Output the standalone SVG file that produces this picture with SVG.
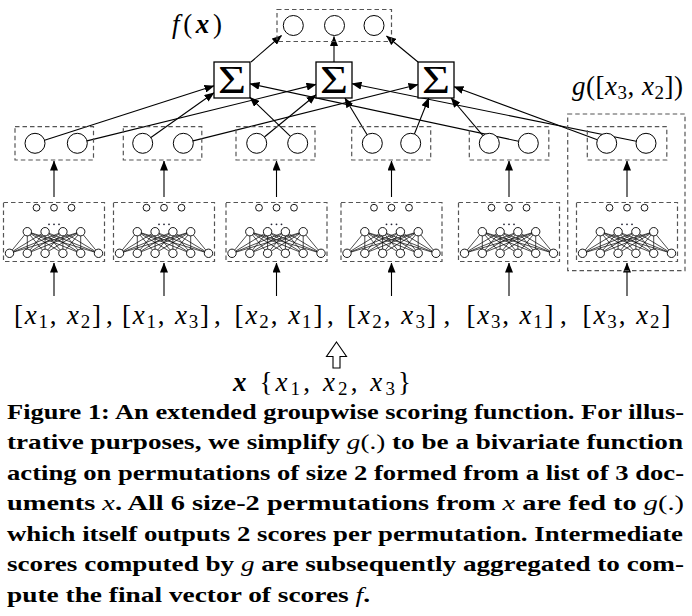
<svg xmlns="http://www.w3.org/2000/svg" xmlns:xlink="http://www.w3.org/1999/xlink" width="692" height="616" viewBox="0 0 692 616">
<style>
.dash{fill:none;stroke:#555;stroke-width:1.2;stroke-dasharray:4.5,3}
.node{fill:#fff;stroke:#000;stroke-width:1}
.small{fill:#fff;stroke:#000;stroke-width:0.9}
.edge{fill:none;stroke:#000;stroke-width:0.7}
.conn{fill:none;stroke:#000;stroke-width:1.1;marker-end:url(#ah)}
.sbox{fill:#fff;stroke:#000;stroke-width:1.3}
.math{font-size:27px;fill:#000}
.sig{font-size:40px;fill:#000}
.cap{font-size:22px;font-weight:bold;fill:#000}
.mi{font-style:italic;font-weight:normal}
</style>
<defs>
<marker id="ah" markerWidth="10" markerHeight="8" refX="9.5" refY="4" orient="auto" markerUnits="userSpaceOnUse">
<path d="M0,0 L10,4 L0,8 z" fill="#000"/>
</marker>
<g id="net">
<rect class="dash" x="-50.5" y="202.5" width="101" height="59"/>
<path class="edge" d="M-44.5 253.3L-26.7 231.7M-44.5 253.3L-8.9 231.7M-44.5 253.3L8.9 231.7M-44.5 253.3L26.7 231.7M-26.7 253.3L-26.7 231.7M-26.7 253.3L-8.9 231.7M-26.7 253.3L8.9 231.7M-26.7 253.3L26.7 231.7M-8.9 253.3L-26.7 231.7M-8.9 253.3L-8.9 231.7M-8.9 253.3L8.9 231.7M-8.9 253.3L26.7 231.7M8.9 253.3L-26.7 231.7M8.9 253.3L-8.9 231.7M8.9 253.3L8.9 231.7M8.9 253.3L26.7 231.7M26.7 253.3L-26.7 231.7M26.7 253.3L-8.9 231.7M26.7 253.3L8.9 231.7M26.7 253.3L26.7 231.7M44.5 253.3L-26.7 231.7M44.5 253.3L-8.9 231.7M44.5 253.3L8.9 231.7M44.5 253.3L26.7 231.7"/>
<circle class="small" cx="-44.5" cy="253.3" r="4.2"/><circle class="small" cx="-26.7" cy="253.3" r="4.2"/><circle class="small" cx="-8.9" cy="253.3" r="4.2"/><circle class="small" cx="8.9" cy="253.3" r="4.2"/><circle class="small" cx="26.7" cy="253.3" r="4.2"/><circle class="small" cx="44.5" cy="253.3" r="4.2"/>
<circle class="small" cx="-26.7" cy="231.7" r="4.2"/><circle class="small" cx="-8.9" cy="231.7" r="4.2"/><circle class="small" cx="8.9" cy="231.7" r="4.2"/><circle class="small" cx="26.7" cy="231.7" r="4.2"/>
<circle class="small" cx="-17.5" cy="207.7" r="3.4"/><circle class="small" cx="0" cy="207.7" r="3.4"/><circle class="small" cx="17.5" cy="207.7" r="3.4"/>
<circle cx="-5" cy="224.3" r="0.9" fill="#223"/><circle cx="0" cy="224.3" r="0.9" fill="#223"/><circle cx="5" cy="224.3" r="0.9" fill="#223"/>
</g>
</defs>

<g id="connectors">
<line class="conn" x1="251" y1="62" x2="281.5" y2="35.5"/>
<line class="conn" x1="334" y1="62" x2="334" y2="36.5"/>
<line class="conn" x1="418" y1="62" x2="386.5" y2="36"/>
<line class="conn" x1="44.5" y1="140.2" x2="214" y2="85.8"/>
<line class="conn" x1="87" y1="140.9" x2="316" y2="84.4"/>
<line class="conn" x1="150.9" y1="137.5" x2="214" y2="92.8"/>
<line class="conn" x1="193" y1="140.9" x2="418" y2="84.5"/>
<line class="conn" x1="264.4" y1="137" x2="316" y2="94.7"/>
<line class="conn" x1="290.5" y1="136.4" x2="250" y2="97.3"/>
<line class="conn" x1="367.1" y1="134.7" x2="344.9" y2="98"/>
<line class="conn" x1="414.4" y1="134" x2="428.8" y2="98"/>
<line class="conn" x1="482.9" y1="135.7" x2="451.1" y2="98"/>
<line class="conn" x1="518.5" y1="141.2" x2="250" y2="83.8"/>
<line class="conn" x1="597.3" y1="139.8" x2="454" y2="86.7"/>
<line class="conn" x1="636.2" y1="141.3" x2="352" y2="83.7"/>
<line class="conn" x1="54" y1="197" x2="54" y2="161"/>
<line class="conn" x1="164" y1="197" x2="164" y2="161"/>
<line class="conn" x1="276.5" y1="197" x2="276.5" y2="161"/>
<line class="conn" x1="391.5" y1="197" x2="391.5" y2="161"/>
<line class="conn" x1="509" y1="197" x2="509" y2="161"/>
<line class="conn" x1="627" y1="197" x2="627" y2="161"/>
<line class="conn" x1="54" y1="296" x2="54" y2="263"/>
<line class="conn" x1="164" y1="296" x2="164" y2="263"/>
<line class="conn" x1="276.5" y1="296" x2="276.5" y2="263"/>
<line class="conn" x1="391.5" y1="296" x2="391.5" y2="263"/>
<line class="conn" x1="509" y1="296" x2="509" y2="263"/>
<line class="conn" x1="627" y1="296" x2="627" y2="263"/>
<path d="M336.5,342 L346.5,356.5 L340,356.5 L340,368 L333,368 L333,356.5 L326.5,356.5 Z" fill="#fff" stroke="#000" stroke-width="1.1"/>
</g>

<g id="f-out">
<rect class="dash" x="277" y="9.5" width="114.5" height="32"/>
<circle class="node" cx="293.3" cy="25.5" r="10"/>
<circle class="node" cx="334.5" cy="25.5" r="10"/>
<circle class="node" cx="374" cy="25.5" r="10"/>
<text class="math" font-family="Liberation Serif" x="172" y="33" font-size="26" textLength="50" lengthAdjust="spacing"><tspan font-style="italic">f</tspan>(<tspan font-style="italic" font-weight="bold">x</tspan>)</text>
</g>

<g id="sum1"><rect class="sbox" x="214" y="62" width="36" height="36"/><text class="sig" font-family="Liberation Serif" x="218" y="93" textLength="28" lengthAdjust="spacingAndGlyphs">Σ</text></g>
<g id="sum2"><rect class="sbox" x="316" y="62" width="36" height="36"/><text class="sig" font-family="Liberation Serif" x="320" y="93" textLength="28" lengthAdjust="spacingAndGlyphs">Σ</text></g>
<g id="sum3"><rect class="sbox" x="418" y="62" width="36" height="36"/><text class="sig" font-family="Liberation Serif" x="422" y="93" textLength="28" lengthAdjust="spacingAndGlyphs">Σ</text></g>

<g id="g1"><rect class="dash" x="15" y="126.7" width="78.5" height="33.3"/><circle class="node" cx="35" cy="143.3" r="10"/><circle class="node" cx="77.3" cy="143.3" r="10"/></g>
<g id="g2"><rect class="dash" x="123.3" y="126.7" width="78.5" height="33.3"/><circle class="node" cx="142.7" cy="143.3" r="10"/><circle class="node" cx="183.3" cy="143.3" r="10"/></g>
<g id="g3"><rect class="dash" x="236" y="126.7" width="79" height="33.3"/><circle class="node" cx="256.7" cy="143.3" r="10"/><circle class="node" cx="297.7" cy="143.3" r="10"/></g>
<g id="g4"><rect class="dash" x="351.7" y="126.7" width="79" height="33.3"/><circle class="node" cx="372.3" cy="143.3" r="10"/><circle class="node" cx="410.7" cy="143.3" r="10"/></g>
<g id="g5"><rect class="dash" x="469.3" y="126.7" width="79.5" height="33.3"/><circle class="node" cx="489.3" cy="143.3" r="10"/><circle class="node" cx="528.3" cy="143.3" r="10"/></g>
<g id="g6"><rect class="dash" x="587.3" y="126.7" width="79.5" height="33.3"/><circle class="node" cx="606.7" cy="143.3" r="10"/><circle class="node" cx="646" cy="143.3" r="10"/></g>

<g id="g-box">
<rect class="dash" x="567.7" y="114" width="117.3" height="156.7"/>
<text class="math" font-family="Liberation Serif" x="572" y="95" font-size="26" fill="#1c2238" textLength="111" lengthAdjust="spacing"><tspan font-style="italic">g</tspan>([<tspan font-style="italic">x</tspan><tspan font-size="19" dy="4">3</tspan><tspan dy="-4">, </tspan><tspan font-style="italic">x</tspan><tspan font-size="19" dy="4">2</tspan><tspan dy="-4">])</tspan></text>
</g>

<g id="net1"><use xlink:href="#net" href="#net" x="54" y="0"/></g>
<g id="net2"><use xlink:href="#net" href="#net" x="164" y="0"/></g>
<g id="net3"><use xlink:href="#net" href="#net" x="276.5" y="0"/></g>
<g id="net4"><use xlink:href="#net" href="#net" x="391.5" y="0"/></g>
<g id="net5"><use xlink:href="#net" href="#net" x="509" y="0"/></g>
<g id="net6"><use xlink:href="#net" href="#net" x="627" y="0"/></g>

<g id="inputs">
<text class="math" font-family="Liberation Serif" x="14" y="323.5" textLength="87" lengthAdjust="spacing">[<tspan font-style="italic">x</tspan><tspan font-size="19" dy="4">1</tspan><tspan dy="-4">, </tspan><tspan font-style="italic">x</tspan><tspan font-size="19" dy="4">2</tspan><tspan dy="-4">]</tspan></text>
<text class="math" font-family="Liberation Serif" x="106" y="323.5">,</text>
<text class="math" font-family="Liberation Serif" x="122" y="323.5" textLength="87" lengthAdjust="spacing">[<tspan font-style="italic">x</tspan><tspan font-size="19" dy="4">1</tspan><tspan dy="-4">, </tspan><tspan font-style="italic">x</tspan><tspan font-size="19" dy="4">3</tspan><tspan dy="-4">]</tspan></text>
<text class="math" font-family="Liberation Serif" x="214" y="323.5">,</text>
<text class="math" font-family="Liberation Serif" x="234.5" y="323.5" textLength="88" lengthAdjust="spacing">[<tspan font-style="italic">x</tspan><tspan font-size="19" dy="4">2</tspan><tspan dy="-4">, </tspan><tspan font-style="italic">x</tspan><tspan font-size="19" dy="4">1</tspan><tspan dy="-4">]</tspan></text>
<text class="math" font-family="Liberation Serif" x="327" y="323.5">,</text>
<text class="math" font-family="Liberation Serif" x="347" y="323.5" textLength="89" lengthAdjust="spacing">[<tspan font-style="italic">x</tspan><tspan font-size="19" dy="4">2</tspan><tspan dy="-4">, </tspan><tspan font-style="italic">x</tspan><tspan font-size="19" dy="4">3</tspan><tspan dy="-4">]</tspan></text>
<text class="math" font-family="Liberation Serif" x="443.5" y="323.5">,</text>
<text class="math" font-family="Liberation Serif" x="466.5" y="323.5" textLength="87" lengthAdjust="spacing">[<tspan font-style="italic">x</tspan><tspan font-size="19" dy="4">3</tspan><tspan dy="-4">, </tspan><tspan font-style="italic">x</tspan><tspan font-size="19" dy="4">1</tspan><tspan dy="-4">]</tspan></text>
<text class="math" font-family="Liberation Serif" x="560" y="323.5">,</text>
<text class="math" font-family="Liberation Serif" x="582.5" y="323.5" fill="#808080" textLength="88" lengthAdjust="spacing">[<tspan font-style="italic">x</tspan><tspan font-size="19" dy="4">3</tspan><tspan dy="-4">, </tspan><tspan font-style="italic">x</tspan><tspan font-size="19" dy="4">2</tspan><tspan dy="-4">]</tspan></text>
</g>

<g id="doc-list">
<text class="math" font-family="Liberation Serif" x="233" y="391" textLength="178" lengthAdjust="spacing"><tspan font-style="italic" font-weight="bold">x</tspan> {<tspan font-style="italic">x</tspan><tspan font-size="19" dy="4">1</tspan><tspan dy="-4">, </tspan><tspan font-style="italic">x</tspan><tspan font-size="19" dy="4">2</tspan><tspan dy="-4">, </tspan><tspan font-style="italic">x</tspan><tspan font-size="19" dy="4">3</tspan><tspan dy="-4">}</tspan></text>
</g>

<g id="caption">
<text class="cap" font-family="Liberation Serif" x="7" y="418.5" textLength="677" lengthAdjust="spacingAndGlyphs">Figure 1: An extended groupwise scoring function. For illus-</text>
<text class="cap" font-family="Liberation Serif" x="7" y="449" textLength="676" lengthAdjust="spacingAndGlyphs">trative purposes, we simplify <tspan class="mi">g</tspan><tspan font-weight="normal">(.)</tspan> to be a bivariate function</text>
<text class="cap" font-family="Liberation Serif" x="7" y="479.5" textLength="677" lengthAdjust="spacingAndGlyphs">acting on permutations of size 2 formed from a list of 3 doc-</text>
<text class="cap" font-family="Liberation Serif" x="7" y="510" textLength="677" lengthAdjust="spacingAndGlyphs">uments <tspan class="mi">x</tspan>. All 6 size-2 permutations from <tspan class="mi">x</tspan> are fed to <tspan class="mi">g</tspan><tspan font-weight="normal">(.)</tspan></text>
<text class="cap" font-family="Liberation Serif" x="7" y="540.5" textLength="676" lengthAdjust="spacingAndGlyphs">which itself outputs 2 scores per permutation. Intermediate</text>
<text class="cap" font-family="Liberation Serif" x="7" y="571" textLength="677" lengthAdjust="spacingAndGlyphs">scores computed by <tspan class="mi">g</tspan> are subsequently aggregated to com-</text>
<text class="cap" font-family="Liberation Serif" x="7" y="601.5" textLength="363" lengthAdjust="spacingAndGlyphs">pute the final vector of scores <tspan class="mi">f</tspan>.</text>
</g>
</svg>
